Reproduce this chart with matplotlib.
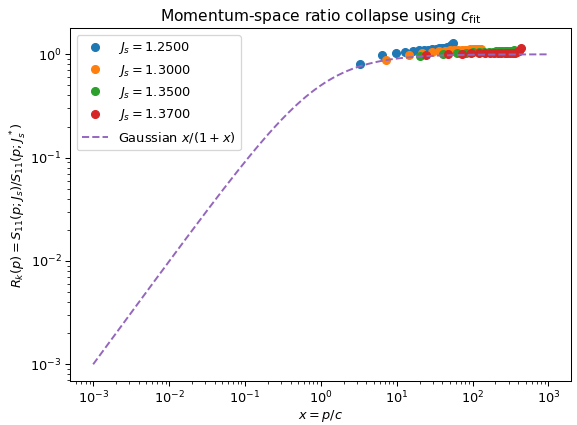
import matplotlib
matplotlib.use("Agg")
import matplotlib.pyplot as plt
import numpy as np

# coupling values for each collapsed series
js_values = [1.25, 1.30, 1.35, 1.37]

# scaled momentum x = p/c_fit and the ratio R_k(p) for each coupling
x_125 = [3.25, 6.5, 9.75, 13.0, 16.25, 19.5, 22.75, 26.0, 29.25, 32.5, 35.75,
         39.0, 42.25, 45.5, 48.75, 52.0, 55.25]
r_125 = [0.80, 0.99, 1.03, 1.05, 1.07, 1.09, 1.10, 1.11, 1.12, 1.13, 1.14,
         1.15, 1.16, 1.17, 1.18, 1.23, 1.30]

x_130 = [7.2, 14.4, 21.6, 28.8, 36.0, 43.2, 50.4, 57.6, 64.8, 72.0, 79.2,
         86.4, 93.6, 100.8, 108.0, 115.2, 122.4, 129.6]
r_130 = [0.88, 0.99, 1.03, 1.05, 1.07, 1.08, 1.09, 1.10, 1.10, 1.11, 1.11,
         1.11, 1.12, 1.12, 1.12, 1.12, 1.12, 1.13]

x_135 = [20.5, 41.0, 61.5, 82.0, 102.5, 123.0, 143.5, 164.0, 184.5, 205.0,
         225.5, 246.0, 266.5, 287.0, 307.5, 328.0, 348.5]
r_135 = [0.96, 1.01, 1.03, 1.04, 1.05, 1.05, 1.06, 1.06, 1.06, 1.07,
         1.07, 1.07, 1.07, 1.07, 1.08, 1.08, 1.09]

x_137 = [24.0, 48.0, 72.0, 96.0, 120.0, 144.0, 168.0, 192.0, 216.0, 240.0,
         264.0, 288.0, 312.0, 336.0, 360.0, 384.0, 408.0, 432.0]
r_137 = [0.99, 1.00, 1.01, 1.02, 1.02, 1.03, 1.03, 1.03, 1.03, 1.03,
         1.03, 1.03, 1.03, 1.03, 1.04, 1.05, 1.08, 1.16]

xs = [x_125, x_130, x_135, x_137]
rs = [r_125, r_130, r_135, r_137]

# reference crossover curve x/(1+x)
x_ref = np.logspace(-3, 3, 200)

fig = plt.figure(figsize=(577 / 93, 425 / 93), dpi=93)
ax = fig.add_axes([0.122, 0.104, 0.868, 0.829])

for js, x, r in zip(js_values, xs, rs):
    ax.plot(x, r, 'o', linestyle='none', label=r'$J_s = %.4f$' % js)

ax.plot(x_ref, x_ref / (1 + x_ref), '--', color='C4', label=r'Gaussian $x/(1+x)$')

ax.set_xscale('log')
ax.set_yscale('log')
ax.set_xlim(10 ** -3.3, 10 ** 3.3)
ax.set_ylim(10 ** -3.16, 10 ** 0.25)
ax.set_xlabel(r'$x = p/c$', labelpad=1)
ax.set_ylabel(r'$R_k(p) = S_{11}(p;J_s)/S_{11}(p;J_s^*)$', labelpad=1)
ax.set_title(r'Momentum-space ratio collapse using $c_{\rm fit}$')
ax.legend(loc='upper left')

fig.savefig('out.png', dpi=93)
